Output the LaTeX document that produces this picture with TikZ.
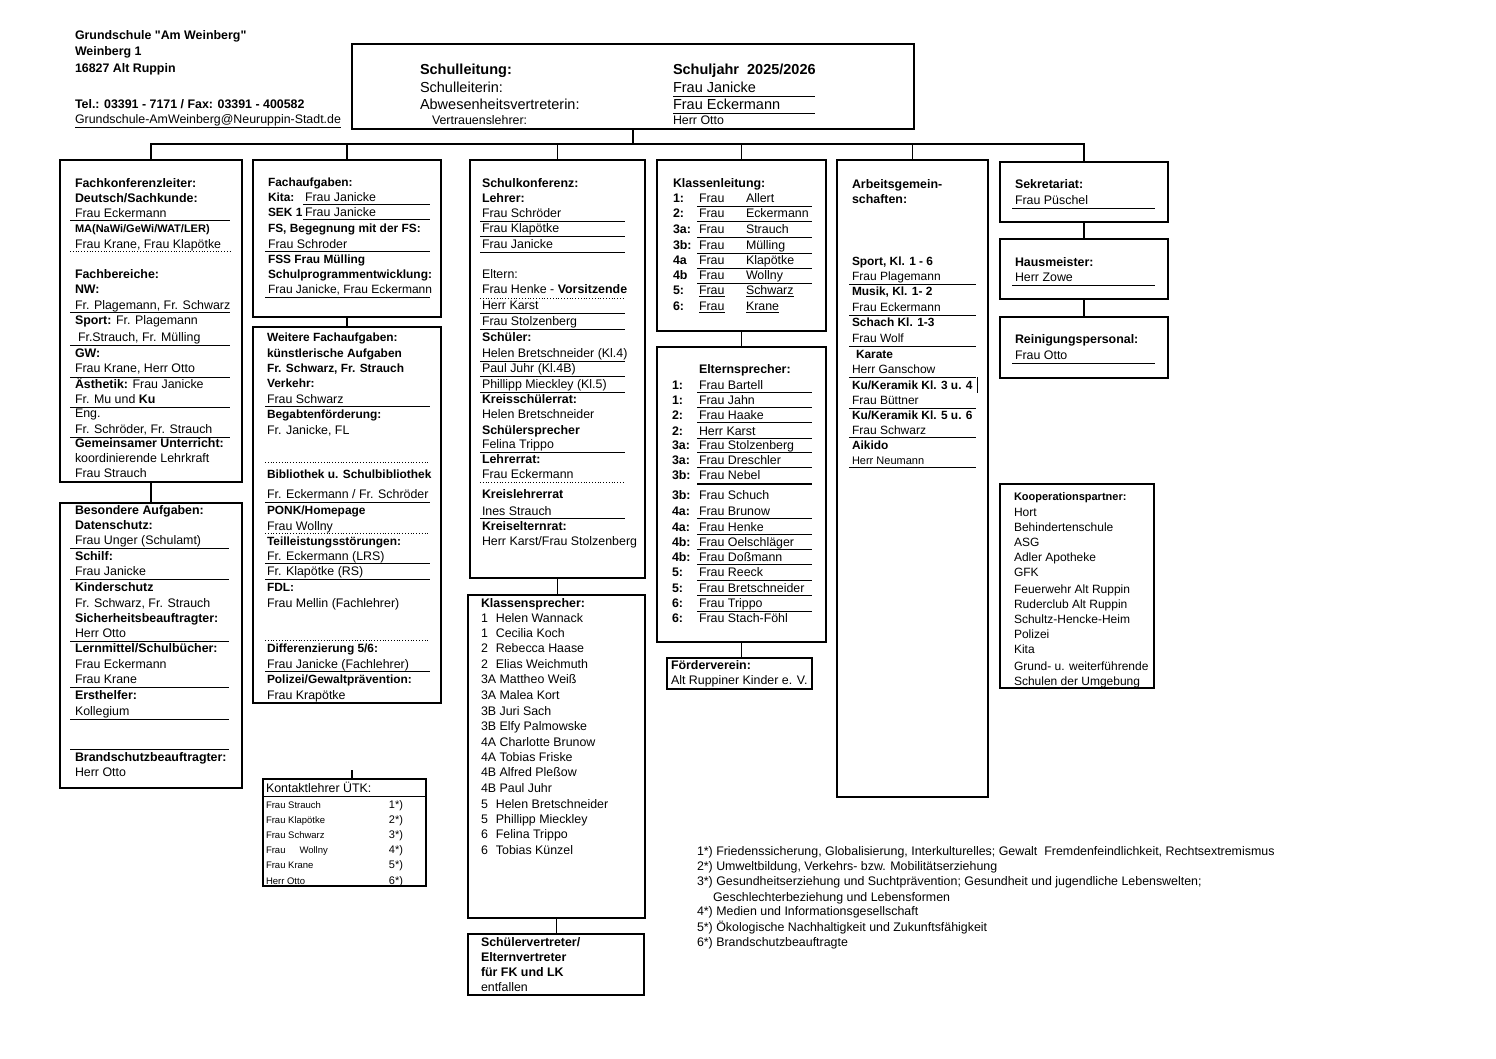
\documentclass[tikz,border=0pt]{standalone}
\usepackage{fontspec}
\setmainfont{Liberation Sans}[Ligatures=TeXOff]
\usetikzlibrary{fit}
\newcounter{tn}
\newcommand\fs{\fontsize{12.4}{15}\selectfont}
\newcommand\T[3][]{\stepcounter{tn}\node[txt,#1] (t\the\value{tn}) at (#2) {#3};}
\newcommand\R[3]{\draw[rule] (#1,#3) -- (#2,#3);}
\tikzset{
  txt/.style={anchor=base west, inner sep=0pt, outer sep=0pt, font=\fs, yshift=-4.4pt},
  b/.style={font=\fs\bfseries},
  bn/.style={font=\fontsize{11.9}{15}\selectfont\bfseries},
  rn/.style={font=\fontsize{12}{15}\selectfont},
  big/.style={font=\fontsize{14.5}{17}\selectfont, yshift=-0.8pt},
  bigb/.style={font=\fontsize{14.5}{17}\selectfont\bfseries, yshift=-0.8pt},
  sm/.style={font=\fontsize{11}{13}\selectfont},
  smb/.style={font=\fontsize{11}{13}\selectfont\bfseries},
  tn/.style={font=\fontsize{9.5}{11}\selectfont},
  tnum/.style={font=\fontsize{11}{13}\selectfont},
  box/.style={draw, line width=1.6pt, inner sep=0pt, outer sep=0pt},
  conn/.style={line width=1.6pt},
  rule/.style={line width=1pt},
  drule/.style={line width=0.8pt, dotted},
}
\begin{document}
\begin{tikzpicture}[x=1pt,y=-1pt]
\fill[white] (0,0) rectangle (1496,1058);
\useasboundingbox (0,0) rectangle (1496,1058);

% header
\T[b]{75,35}{Grundschule "Am Weinberg"}
\T[b]{75,51}{Weinberg 1}
\T[b]{75,68}{16827 Alt Ruppin}
\T[b]{75,104}{Tel.: 03391 - 7171 / Fax: 03391 - 400582}
\T{75,119}{\underline{Grundschule-AmWeinberg@Neuruppin-Stadt.de}}

% top box
\node[box, fit={(352,44) (914,129)}] (top) {};
\T[bigb]{420,69}{Schulleitung:}
\T[big]{420,87}{Schulleiterin:}
\T[big]{420,104}{Abwesenheitsvertreterin:}
\T{432,120}{Vertrauenslehrer:}
\T[bigb]{673,69}{Schuljahr\ \ 2025/2026}
\T[big]{673,87}{Frau Janicke}
\T[big]{673,104}{Frau Eckermann}
\T{673,120}{Herr Otto}
\R{673}{815}{96}
\R{673}{815}{113}

% boxes
\node[box, fit={(60,160) (242,482)}] (c1a) {};
\node[box, fit={(60,503) (242,788)}] (c1b) {};
\node[box, fit={(253,160) (441,317)}] (c2a) {};
\node[box, fit={(253,327) (441,703)}] (c2b) {};
\node[box, fit={(470,160) (645,578)}] (c3a) {};
\node[box, fit={(468,595) (645,918)}] (c3b) {};
\node[box, fit={(468,934) (644,995)}] (c3c) {};
\node[box, fit={(657,160) (826,331)}] (c4a) {};
\node[box, fit={(657,347) (826,642)}] (c4b) {};
\node[box, fit={(667,658) (812,689)}] (c4c) {};
\node[box, fit={(837,160) (988,797)}] (c5a) {};
\node[box, fit={(1000,162) (1168,222)}] (c6a) {};
\node[box, fit={(1000,239) (1168,299)}] (c6b) {};
\node[box, fit={(1000,317) (1168,378)}] (c6c) {};
\node[box, fit={(1000,484) (1154,688)}] (koop) {};
\node[box, line width=1.3pt, fit={(263,779) (426,886)}] (ktab) {};

% connectors
\coordinate (bus) at (633,144);
\coordinate (kt) at (352,770);
\draw[conn] (top.south) -- (bus);
\draw[conn] (c1a.north) |- (bus) -| (c6a.north);
\foreach \n in {c2a,c3a,c4a,c5a} {\draw[conn] (\n.north) -- (\n.north |- bus);}
\draw[conn] (c1a.south) -- (c1b.north);
\draw[conn] (c2a.south) -- (c2b.north);
\draw[conn] (c3a.south) -- (c3a.south |- c3b.north);
\draw[conn] (c3b.south) -- (c3b.south |- c3c.north);
\draw[conn] (c4a.south) -- (c4b.north);
\draw[conn] (c4b.south) -- (c4b.south |- c4c.north);
\draw[conn] (c6a.south) -- (c6b.north);
\draw[conn] (c6b.south) -- (c6c.north);
\draw[conn] (kt) -- (kt |- ktab.north);

% column 1a
\T[b]{75,183}{Fachkonferenzleiter:}
\T[b]{75,198}{Deutsch/Sachkunde:}
\T{75,213}{Frau Eckermann}
\T[smb]{75,228}{MA(NaWi/GeWi/WAT/LER)}
\T{75,244}{Frau Krane, Frau Klapötke}
\T[b]{75,274}{Fachbereiche:}
\T[b]{75,289}{NW:}
\T{75,305}{Fr. Plagemann, Fr. Schwarz}
\T{75,320}{\textbf{Sport:} Fr. Plagemann}
\T{78,337}{Fr.Strauch, Fr. Mülling}
\T[b]{75,353}{GW:}
\T{75,368}{Frau Krane, Herr Otto}
\T{75,384}{\textbf{Ästhetik:} Frau Janicke}
\T{75,399}{Fr. Mu und \textbf{Ku}}
\T{75,413}{Eng.}
\T{75,429}{Fr. Schröder, Fr. Strauch}
\T[b]{75,443}{Gemeinsamer Unterricht:}
\T{75,458}{koordinierende Lehrkraft}
\T{75,473}{Frau Strauch}
\R{70}{230}{220}
\draw[drule] (70,251) -- (230,251);
\R{70}{230}{312}
\R{70}{230}{345}
\R{70}{230}{377}
\R{70}{230}{407}
\R{70}{230}{437}

% column 1b
\T[b]{75,510}{Besondere Aufgaben:}
\T[b]{75,525}{Datenschutz:}
\T{75,540}{Frau Unger (Schulamt)}
\T[b]{75,556}{Schilf:}
\T{75,571}{Frau Janicke}
\T[b]{75,587}{Kinderschutz}
\T{75,603}{Fr. Schwarz, Fr. Strauch}
\T[b]{75,618}{Sicherheitsbeauftragter:}
\T{75,633}{Herr Otto}
\T[b]{75,648}{Lernmittel/Schulbücher:}
\T{75,664}{Frau Eckermann}
\T{75,679}{Frau Krane}
\T[b]{75,695}{Ersthelfer:}
\T{75,711}{Kollegium}
\T[b]{75,757}{Brandschutzbeauftragter:}
\T{75,772}{Herr Otto}
\R{70}{229}{548}
\R{70}{229}{579}
\R{70}{229}{641}
\R{70}{229}{687}
\R{70}{229}{719}
\R{70}{229}{749}

% column 2a
\T[bn]{268,182}{Fachaufgaben:}
\T[bn]{268,197}{Kita:}
\T{305,197}{Frau Janicke}
\T[bn]{268,212}{SEK 1}
\T{305,212}{Frau Janicke}
\T[bn]{268,228}{FS, Begegnung mit der FS:}
\T{268,244}{Frau Schroder}
\T[bn]{268,259}{FSS Frau Mülling}
\T[bn]{268,274}{Schulprogrammentwicklung:}
\T[rn]{268,289}{Frau Janicke, Frau Eckermann}
\R{303}{430}{204}
\R{303}{430}{219}
\R{265}{430}{251}
\R{265}{430}{297}

% column 2b
\T[bn]{267,337}{Weitere Fachaufgaben:}
\T[bn]{267,353}{künstlerische Aufgaben}
\T[bn]{267,368}{Fr. Schwarz, Fr. Strauch}
\T[bn]{267,383}{Verkehr:}
\T{267,399}{Frau Schwarz}
\T[bn]{267,414}{Begabtenförderung:}
\T{267,430}{Fr. Janicke, FL}
\T[bn]{267,474}{Bibliothek u. Schulbibliothek}
\T{267,494}{Fr. Eckermann / Fr. Schröder}
\T[bn]{267,510}{PONK/Homepage}
\T{267,526}{Frau Wollny}
\T[bn]{267,541}{Teilleistungsstörungen:}
\T{267,556}{Fr. Eckermann (LRS)}
\T{267,571}{Fr. Klapötke (RS)}
\T[bn]{267,587}{FDL:}
\T{267,603}{Frau Mellin (Fachlehrer)}
\T[bn]{267,648}{Differenzierung 5/6:}
\T{267,664}{Frau Janicke (Fachlehrer)}
\T[bn]{267,679}{Polizei/Gewaltprävention:}
\T{267,695}{Frau Krapötke}
\R{265}{430}{406}
\draw[drule] (265,462) -- (430,462);
\R{265}{430}{502}
\draw[drule] (265,533) -- (430,533);
\R{265}{430}{563}
\R{265}{430}{579}
\draw[drule] (265,640) -- (430,640);
\R{265}{430}{671}

% column 3a
\T[b]{482,183}{Schulkonferenz:}
\T[b]{482,198}{Lehrer:}
\T{482,213}{Frau Schröder}
\T{482,228}{Frau Klapötke}
\T{482,244}{Frau Janicke}
\T{482,274}{Eltern:}
\T{482,289}{Frau Henke - \textbf{Vorsitzende}}
\T{482,305}{Herr Karst}
\T{482,321}{Frau Stolzenberg}
\T[b]{482,337}{Schüler:}
\T{482,353}{Helen Bretschneider (Kl.4)}
\T{482,368}{Paul Juhr (Kl.4B)}
\T{482,384}{Phillipp Mieckley (Kl.5)}
\T[b]{482,399}{Kreisschülerrat:}
\T{482,414}{Helen Bretschneider}
\T[b]{482,430}{Schülersprecher}
\T{482,444}{Felina Trippo}
\T[b]{482,459}{Lehrerrat:}
\T{482,474}{Frau Eckermann}
\T[b]{482,494}{Kreislehrerrat}
\T{482,511}{Ines Strauch}
\T[b]{482,526}{Kreiselternrat:}
\T{482,541}{Herr Karst/Frau Stolzenberg}
\foreach \y in {221,236,252,313,329,361,376,392,452,518} {\R{480}{625}{\y}}
\draw[drule] (480,298) -- (625,298);
\draw[drule] (480,482) -- (625,482);

% column 3b
\T[b]{481,603}{Klassensprecher:}
\T{481,618}{1\hspace{8pt}Helen Wannack}
\T{481,633}{1\hspace{8pt}Cecilia Koch}
\T{481,648}{2\hspace{8pt}Rebecca Haase}
\T{481,664}{2\hspace{8pt}Elias Weichmuth}
\T{481,679}{3A Mattheo Weiß}
\T{481,695}{3A Malea Kort}
\T{481,711}{3B Juri Sach}
\T{481,726}{3B Elfy Palmowske}
\T{481,742}{4A Charlotte Brunow}
\T{481,757}{4A Tobias Friske}
\T{481,772}{4B Alfred Pleßow}
\T{481,788}{4B Paul Juhr}
\T{481,804}{5\hspace{8pt}Helen Bretschneider}
\T{481,819}{5\hspace{8pt}Phillipp Mieckley}
\T{481,834}{6\hspace{8pt}Felina Trippo}
\T{481,850}{6\hspace{8pt}Tobias Künzel}

% column 3c
\T[b]{481,942}{Schülervertreter/}
\T[b]{481,957}{Elternvertreter}
\T[b]{481,972}{für FK und LK}
\T{481,987}{entfallen}

% column 4a
\T[b]{673,183}{Klassenleitung:}
\T[b]{673,198}{1:}  \T{699,198}{Frau} \T{746,198}{Allert}
\T[b]{673,213}{2:}  \T{699,213}{Frau} \T{746,213}{Eckermann}
\T[b]{673,229}{3a:} \T{699,229}{Frau} \T{746,229}{Strauch}
\T[b]{673,245}{3b:} \T{699,245}{Frau} \T{746,245}{Mülling}
\T[b]{673,260}{4a}  \T{699,260}{Frau} \T{746,260}{Klapötke}
\T[b]{673,275}{4b}  \T{699,275}{Frau} \T{746,275}{Wollny}
\T[b]{673,290}{5:}  \T{699,290}{\underline{Frau}} \T{746,290}{\underline{Schwarz}}
\T[b]{673,306}{6:}  \T{699,306}{\underline{Frau}} \T{746,306}{\underline{Krane}}
\foreach \y in {206,221,237,253,268,283} {\R{697}{812}{\y}}

% column 4b
\T[b]{699,369}{Elternsprecher:}
\foreach \y/\l/\n in {385/1:/Frau Bartell, 400/1:/Frau Jahn, 415/2:/Frau Haake, 431/2:/Herr Karst,
  445/3a:/Frau Stolzenberg, 460/3a:/Frau Dreschler, 475/3b:/Frau Nebel, 495/3b:/Frau Schuch,
  511/4a:/Frau Brunow, 527/4a:/Frau Henke, 542/4b:/Frau Oelschläger, 557/4b:/Frau Doßmann,
  572/5:/Frau Reeck, 588/5:/Frau Bretschneider, 603/6:/Frau Trippo, 618/6:/Frau Stach-Föhl}
  {\T[b]{672,\y}{\l} \T{699,\y}{\n}}
\foreach \y in {392,407,422,438,452,467,518,534,549,564,580,595,611} {\R{697}{812}{\y}}
\draw[line width=1.4pt] (697,484) -- (812,484);

% column 4c
\T[b]{671,665}{Förderverein:}
\T{671,680}{Alt Ruppiner Kinder e. V.}

% column 5
\T[b]{852,184}{Arbeitsgemein-}
\T[b]{852,199}{schaften:}
\T[bn]{852,261}{Sport, Kl. 1 - 6}
\T[rn]{852,276}{Frau Plagemann}
\T[bn]{852,291}{Musik, Kl. 1- 2}
\T[rn]{852,307}{Frau Eckermann}
\T[bn]{852,322}{Schach Kl. 1-3}
\T[rn]{852,338}{Frau Wolf}
\T[bn]{856,354}{Karate}
\T[rn]{852,369}{Herr Ganschow}
\T[bn]{852,385}{Ku/Keramik Kl. 3 u. 4}
\T[rn]{852,400}{Frau Büttner}
\T[bn]{852,415}{Ku/Keramik Kl. 5 u. 6}
\T[rn]{852,430}{Frau Schwarz}
\T[bn]{852,445}{Aikido}
\T[sm]{852,460}{Herr Neumann}
\foreach \y in {284,315,346,377,408,437,467} {\R{849}{976}{\y}}
\draw[rule] (977,377) -- (977,393);

% column 6
\T[b]{1015,184}{Sekretariat:}
\T{1015,200}{Frau Püschel}
\R{1012}{1155}{208}
\T[b]{1015,262}{Hausmeister:}
\T{1015,277}{Herr Zowe}
\R{1012}{1155}{285}
\T[b]{1015,339}{Reinigungspersonal:}
\T{1015,355}{Frau Otto}
\R{1012}{1155}{363}

% Kooperationspartner
\T[smb]{1014,496}{Kooperationspartner:}
\foreach \y/\n in {512/Hort, 527/Behindertenschule, 542/ASG, 557/Adler Apotheke, 572/GFK,
  589/Feuerwehr Alt Ruppin, 604/Ruderclub Alt Ruppin, 619/Schultz-Hencke-Heim, 634/Polizei,
  649/Kita, 666/Grund- u. weiterführende, 681/Schulen der Umgebung}
  {\T[rn]{1014,\y}{\n}}

% Kontaktlehrer table
\T{266,788}{Kontaktlehrer ÜTK:}
\draw[line width=1pt] (263,796) -- (426,796);
\foreach \y/\n/\k in {804/Frau Strauch/1, 819/Frau Klapötke/2, 834/Frau Schwarz/3,
  849/Frau\hspace{14pt}Wollny/4, 864/Frau Krane/5, 880/Herr Otto/6}
  {\T[tn]{266,\y}{\n} \T[tnum,anchor=base east]{403,\y}{\k*)}}

% footnotes
\T{697,851}{1*) Friedenssicherung, Globalisierung, Interkulturelles; Gewalt\ \ Fremdenfeindlichkeit, Rechtsextremismus}
\T{697,866}{2*) Umweltbildung, Verkehrs- bzw. Mobilitätserziehung}
\T{697,881}{3*) Gesundheitserziehung und Suchtprävention; Gesundheit und jugendliche Lebenswelten;}
\T{713,897}{Geschlechterbeziehung und Lebensformen}
\T{697,911}{4*) Medien und Informationsgesellschaft}
\T{697,927}{5*) Ökologische Nachhaltigkeit und Zukunftsfähigkeit}
\T{697,942}{6*) Brandschutzbeauftragte}
\end{tikzpicture}
\end{document}
